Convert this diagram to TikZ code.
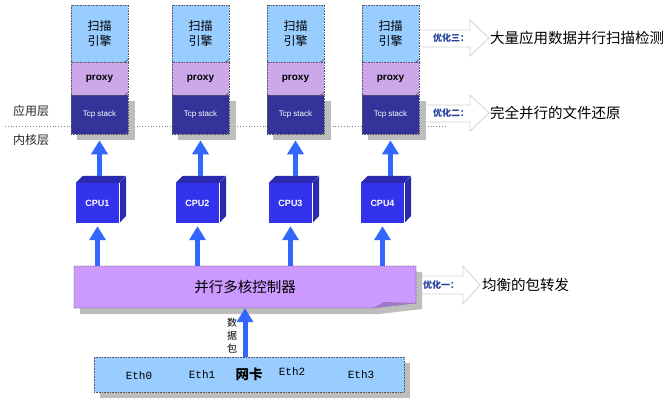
\documentclass[tikz,border=0pt]{standalone}
\usepackage{fontspec}
\setmainfont{Noto Sans CJK SC}
\newfontfamily\lsans{Liberation Sans}
\newfontfamily\lmono{Liberation Mono}
\usetikzlibrary{arrows.meta}
\definecolor{engblue}{HTML}{99CCFF}
\definecolor{prxcol}{HTML}{CCA8EA}
\definecolor{tcpcol}{HTML}{333399}
\definecolor{cpucol}{HTML}{3333EE}
\definecolor{cubedark}{HTML}{2A2AAE}
\definecolor{ctrlcol}{HTML}{CC99FF}
\definecolor{ctrlfold}{HTML}{9F78C8}
\definecolor{arrowblue}{HTML}{3366FF}
\definecolor{shadowgray}{HTML}{BDBDBD}
\definecolor{optblue}{HTML}{1F3D99}
\definecolor{boxedge}{HTML}{555566}
\newcommand\cpucube[3]{%
  \node[cpubox] (#1) at (#2) {#3};
  \fill[cubedark] (#1.north west) -- ++(7,-7) -- ++(43,0) -- (#1.north east) -- cycle;
  \fill[cubedark] (#1.north east) -- ++(7,-7) -- ++(0,40) -- (#1.south east) -- cycle;
  \draw[white, line width=0.8pt] (#1.north east) -- (#1.south east);
}
\begin{document}
\begin{tikzpicture}[x=1pt,y=-1pt,
  boxline/.style={draw=boxedge, densely dotted, line width=0.6pt},
  engbox/.style={boxline, fill=engblue, minimum width=57pt, minimum height=57pt, inner sep=0pt, align=center, font=\fontsize{12}{15}\selectfont},
  prxbox/.style={boxline, fill=prxcol, minimum width=57pt, minimum height=33pt, inner sep=0pt, font=\lsans\bfseries\fontsize{10}{12}\selectfont},
  tcpbox/.style={boxline, fill=tcpcol, minimum width=57pt, minimum height=39pt, inner sep=0pt, text=white, font=\lsans\fontsize{8}{10}\selectfont},
  cpubox/.style={fill=cpucol, minimum width=43pt, minimum height=40pt, inner sep=0pt, text=white, font=\lsans\bfseries\fontsize{9}{11}\selectfont},
  bluearrow/.style={draw=arrowblue, line width=5pt, -{Triangle[width=16pt,length=14pt]}},
  shadowfill/.style={fill=shadowgray},
  optarrow/.style={draw=gray!35, fill=white, line width=0.8pt},
  optlabel/.style={text=optblue, inner sep=0pt, font=\bfseries\fontsize{9}{11}\selectfont},
  result/.style={anchor=west, inner sep=0pt, font=\fontsize{14.5}{16}\selectfont},
  layerlabel/.style={inner sep=0pt, text=black!85, font=\fontsize{12}{14}\selectfont},
  ethlabel/.style={inner sep=0pt, font=\lmono\fontsize{11}{13}\selectfont},
  foldmark/.style={draw=boxedge, line width=0.6pt}
]
\useasboundingbox[fill=white] (0,0) rectangle (672,405);

% layer separator
\draw[gray, dotted, line width=0.8pt] (5,126) -- (445,126);
\node[layerlabel] (app) at (31,111) {应用层};
\node[layerlabel] (kern) at (31,140) {内核层};

% optimisation block arrows (drawn first, their tails hide behind the boxes)
\draw[optarrow] (410,30) -- (470,30) -- (470,20) -- (489,38) -- (470,56) -- (470,47) -- (410,47);
\draw[optarrow] (410,105) -- (470,105) -- (470,95) -- (489,113) -- (470,131) -- (470,122) -- (410,122);
\draw[optarrow] (405,276) -- (463,276) -- (463,266) -- (480,285) -- (463,304) -- (463,294) -- (405,294);

% shadows of tcp boxes
\fill[shadowfill] (77,101) rectangle (135,140);
\fill[shadowfill] (178,101) rectangle (236,140);
\fill[shadowfill] (273,101) rectangle (331,140);
\fill[shadowfill] (368,101) rectangle (426,140);

% stacks
\node[engbox] (eng1) at (99.5,33.5) {扫描\\引擎};
\node[prxbox] (prx1) at (99.5,78.5) {proxy};
\node[tcpbox] (tcp1) at (99.5,114.5) {Tcp stack};
\node[engbox] (eng2) at (200.5,33.5) {扫描\\引擎};
\node[prxbox] (prx2) at (200.5,78.5) {proxy};
\node[tcpbox] (tcp2) at (200.5,114.5) {Tcp stack};
\node[engbox] (eng3) at (295.5,33.5) {扫描\\引擎};
\node[prxbox] (prx3) at (295.5,78.5) {proxy};
\node[tcpbox] (tcp3) at (295.5,114.5) {Tcp stack};
\node[engbox] (eng4) at (390.5,33.5) {扫描\\引擎};
\node[prxbox] (prx4) at (390.5,78.5) {proxy};
\node[tcpbox] (tcp4) at (390.5,114.5) {Tcp stack};
\foreach \i in {1,2,3,4}{
  \draw[foldmark] ([xshift=-4pt]eng\i.south east) -- ([yshift=3pt]eng\i.south east);
  \draw[foldmark] ([xshift=-4pt]prx\i.south east) -- ([yshift=3pt]prx\i.south east);
  \draw[foldmark] ([xshift=-4pt]tcp\i.south east) -- ([yshift=3pt]tcp\i.south east);
}

% optimisation labels and results
\node[optlabel] (opt3) at (451,38) {优化三：};
\node[optlabel] (opt2) at (451,113) {优化二：};
\node[optlabel] (opt1) at (441,285) {优化一：};
\node[result] (res3) at (490,38) {大量应用数据并行扫描检测};
\node[result] (res2) at (490,113) {完全并行的文件还原};
\node[result] (res1) at (482,285) {均衡的包转发};

% controller
\fill[shadowfill] (80,272) -- (422,272) -- (422,309) -- (379,314) -- (80,314) -- cycle;
\fill[ctrlcol] (74,266) -- (416,266) -- (416,303) -- (373,308) -- (74,308) -- cycle;
\draw[boxline] (74,266) -- (416,266) -- (416,303) -- (373,308) -- (74,308) -- cycle;
\fill[ctrlfold] (373,308) -- (384,302) -- (416,303) -- cycle;
\node[inner sep=0pt, minimum width=342pt, minimum height=42pt, font=\fontsize{14.5}{16}\selectfont] (ctrl) at (245,287) {并行多核控制器};

% CPUs
\cpucube{cpu1}{97.5,203}{CPU1}
\cpucube{cpu2}{197.5,203}{CPU2}
\cpucube{cpu3}{290.5,203}{CPU3}
\cpucube{cpu4}{382.5,203}{CPU4}

% arrows CPU -> tcp stack, controller -> CPU
\foreach \i in {1,2,3,4}{
  \draw[bluearrow, shorten <=7pt, shorten >=6pt] (tcp\i.south |- cpu\i.north) -- (tcp\i.south);
  \draw[bluearrow, shorten >=3pt] (cpu\i.south |- ctrl.north) -- (cpu\i.south);
}

% NIC
\fill[shadowfill] (100,363) rectangle (410,398);
\node[boxline, fill=engblue, minimum width=310pt, minimum height=35pt, inner sep=0pt, font=\bfseries\fontsize{13.5}{15}\selectfont] (nic) at (249,374.5) {网卡};
\node[ethlabel] (eth0) at (139,376) {Eth0};
\node[ethlabel] (eth1) at (202,375) {Eth1};
\node[ethlabel] (eth2) at (292,372) {Eth2};
\node[ethlabel] (eth3) at (361,375) {Eth3};

% packet arrow
\draw[bluearrow] (ctrl.south |- nic.north) -- (ctrl.south);
\node[inner sep=0pt, align=center, font=\fontsize{10}{13}\selectfont] (pkt) at (232,336) {数\\据\\包};
\end{tikzpicture}
\end{document}
